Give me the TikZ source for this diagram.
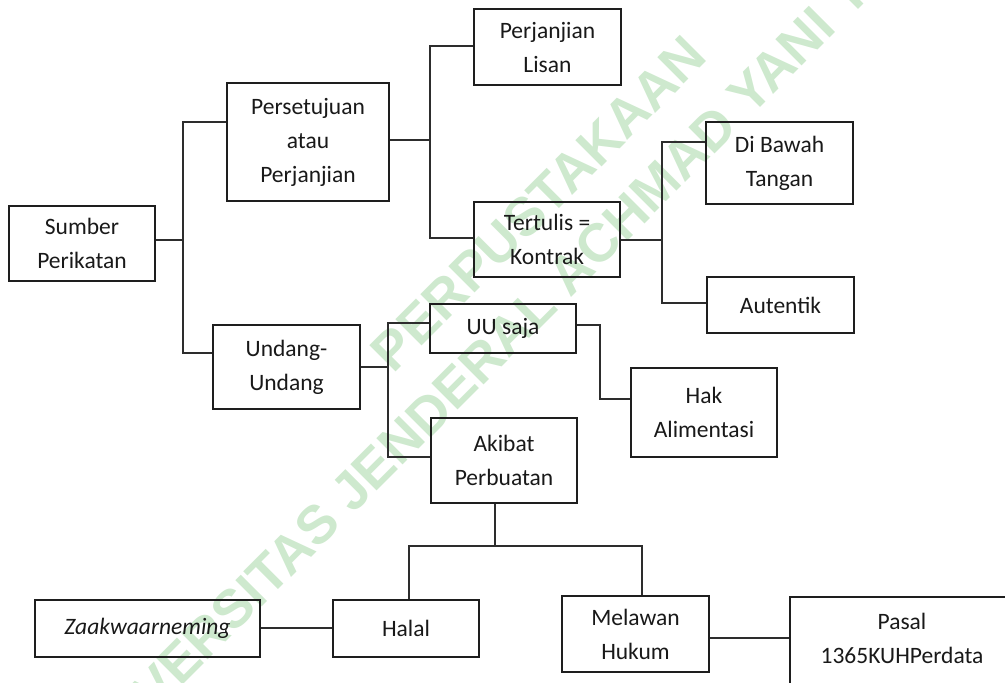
\documentclass[tikz,border=0pt]{standalone}
\usepackage{fontspec}
\setmainfont{Carlito}
\newfontfamily\wmfont{Liberation Sans}
\definecolor{wmgreen}{RGB}{206,233,206}
\definecolor{boxline}{RGB}{30,30,30}
\definecolor{connline}{RGB}{45,45,45}
\begin{document}
\begin{tikzpicture}[x=1pt,y=-1pt,
  box/.style={draw=boxline, line width=1.9pt, align=center, inner sep=0pt,
    font=\fontsize{23.5}{34}\selectfont, text=black!90},
  txt/.style={align=center, inner sep=0pt, font=\fontsize{23.5}{34}\selectfont, text=black!90},
  conn/.style={draw=connline, line width=1.3pt},
  wm/.style={font=\wmfont\bfseries\fontsize{54}{54}\selectfont, text=wmgreen, rotate=45, inner sep=0pt}]
\useasboundingbox (0,0) rectangle (1005,683);
\clip (0,0) rectangle (1005,683);

% watermark
\node[wm] (wm1) at (538.5,203.5) {PERPUSTAKAAN};
\node[wm] (wm2) at (588.5,253.5) {UNIVERSITAS JENDERAL ACHMAD YANI YOGYAKARTA};

% boxes
\node[box, minimum width=146pt, minimum height=75pt] (sumber) at (82,243.5) {Sumber\\Perikatan};
\node[box, minimum width=162pt, minimum height=118pt] (setuju) at (308,142) {Persetujuan\\atau\\Perjanjian};
\node[box, minimum width=147pt, minimum height=76pt] (lisan) at (547.5,47) {Perjanjian\\Lisan};
\node[box, minimum width=146pt, minimum height=75pt] (tertulis) at (547,239.5) {Tertulis =\\Kontrak};
\node[box, minimum width=147pt, minimum height=82pt] (bawah) at (779.5,163) {Di Bawah\\Tangan};
\node[box, minimum width=147pt, minimum height=56pt] (autentik) at (780.5,305) {Autentik};
\node[box, minimum width=146pt, minimum height=49pt] (uu) at (503,328.5) {UU saja};
\node[box, minimum width=146pt, minimum height=89pt] (hak) at (704,412.5) {Hak\\Alimentasi};
\node[box, minimum width=147pt, minimum height=84pt] (undang) at (286.5,367) {Undang-\\Undang};
\node[box, minimum width=146pt, minimum height=85pt] (akibat) at (504,460.5) {Akibat\\Perbuatan};
\node[box, minimum width=146pt, minimum height=57pt] (halal) at (406,628.5) {Halal};
\node[box, minimum width=225pt, minimum height=57pt] (zaak) at (147.5,628.5) {\itshape Zaakwaarneming};
\node[box, minimum width=147pt, minimum height=76pt] (melawan) at (635.5,634) {Melawan\\Hukum};
\node[box, minimum width=224pt, minimum height=110pt] (pasal) at (902,652) {};
\node[txt] (pasaltxt) at (902,638) {Pasal\\1365KUHPerdata};

% junction points
\coordinate (c1t) at (183,122); \coordinate (c1b) at (183,353); \coordinate (c1m) at (183,240);
\coordinate (c2t) at (430,46);  \coordinate (c2b) at (430,238); \coordinate (c2m) at (430,140);
\coordinate (c3t) at (662,142); \coordinate (c3b) at (662,303); \coordinate (c3m) at (662,240);
\coordinate (c4t) at (388,323); \coordinate (c4b) at (388,457); \coordinate (c4m) at (388,367);
\coordinate (c5t) at (600,325); \coordinate (c5b) at (600,399);
\coordinate (c6m) at (495,546); \coordinate (c6l) at (409,546); \coordinate (c6r) at (642,546);
\coordinate (c7) at (300,628);
\coordinate (c8) at (750,638);

% connectors
\draw[conn] (sumber.east |- c1m) -- (c1m);
\draw[conn] (setuju.west |- c1t) -- (c1t) -- (c1b) -- (undang.west |- c1b);
\draw[conn] (setuju.east |- c2m) -- (c2m);
\draw[conn] (lisan.west |- c2t) -- (c2t) -- (c2b) -- (tertulis.west |- c2b);
\draw[conn] (tertulis.east |- c3m) -- (c3m);
\draw[conn] (bawah.west |- c3t) -- (c3t) -- (c3b) -- (autentik.west |- c3b);
\draw[conn] (undang.east |- c4m) -- (c4m);
\draw[conn] (uu.west |- c4t) -- (c4t) -- (c4b) -- (akibat.west |- c4b);
\draw[conn] (uu.east |- c5t) -- (c5t) -- (c5b) -- (hak.west |- c5b);
\draw[conn] (akibat.south -| c6m) -- (c6m);
\draw[conn] (halal.north -| c6l) -- (c6l) -- (c6r) -- (melawan.north -| c6r);
\draw[conn] (zaak.east |- c7) -- (halal.west |- c7);
\draw[conn] (melawan.east |- c8) -- (pasal.west |- c8);
\end{tikzpicture}
\end{document}
